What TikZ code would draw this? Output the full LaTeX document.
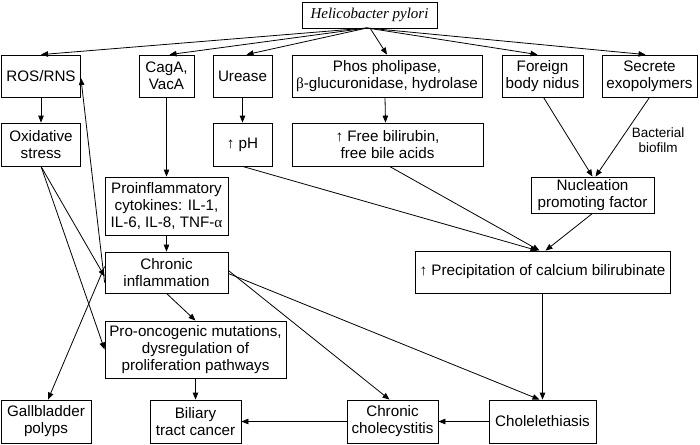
\documentclass[tikz,border=0pt]{standalone}
\usepackage{fontspec}
\setmainfont{Liberation Sans}
\newfontfamily\serifit{Liberation Serif}
\usetikzlibrary{arrows.meta}
\begin{document}
\begin{tikzpicture}[x=1pt,y=-1pt,
  box/.style={draw,line width=0.8pt,rectangle,align=center,inner sep=1pt,font=\fontsize{15.2}{17}\selectfont},
  arr/.style={line width=0.8pt,-{Triangle[length=7pt,width=5.5pt]}},
  ln/.style={line width=0.8pt}]
\useasboundingbox (0,0) rectangle (700,444);
\node[box,minimum width=135pt,minimum height=26pt] (hp) at (369.5,15) {\fontsize{15}{17}\selectfont\serifit\itshape Helicobacter pylori};
\node[box,minimum width=79pt,minimum height=42pt] (ros) at (41,76) {ROS/RNS};
\node[box,minimum width=55pt,minimum height=42pt] (cag) at (166.5,76) {CagA,\\VacA};
\node[box,minimum width=59pt,minimum height=42pt] (ure) at (242.5,76) {Urease};
\node[box,minimum width=190pt,minimum height=42pt] (pho) at (387,76) {Phos pholipase,\\{\serifit β}-glucuronidase, hydrolase};
\node[box,minimum width=81pt,minimum height=42pt] (fbn) at (542.5,76) {Foreign\\body nidus};
\node[box,minimum width=95pt,minimum height=42pt] (sec) at (649.5,76) {Secrete\\exopolymers};
\node[box,minimum width=79pt,minimum height=43pt] (oxi) at (41,144.5) {Oxidative\\stress};
\node[box,minimum width=59pt,minimum height=43pt] (ph) at (242.5,144.5) {↑ pH};
\node[box,minimum width=191pt,minimum height=43pt] (fbb) at (387.5,144.5) {↑ Free bilirubin,\\free bile acids};
\node[box,minimum width=123pt,minimum height=36pt] (nuc) at (592.5,195) {Nucleation\\promoting factor};
\node[box,minimum width=123pt,minimum height=58pt] (pro) at (166.5,206) {Proinflammatory\\cytokines: IL-1,\\IL-6, IL-8, TNF-{\serifit α}};
\node[box,minimum width=123pt,minimum height=41pt] (chr) at (166.5,272.5) {Chronic\\inflammation};
\node[box,minimum width=255pt,minimum height=42pt] (pre) at (542.5,272) {↑ Precipitation of calcium bilirubinate};
\node[box,minimum width=181pt,minimum height=57pt] (onc) at (195.5,349.5) {Pro-oncogenic mutations,\\dysregulation of\\proliferation pathways};
\node[box,minimum width=90pt,minimum height=43pt] (gbp) at (46,421.5) {Gallbladder\\polyps};
\node[box,minimum width=91pt,minimum height=43pt] (btc) at (195.5,421.5) {Biliary\\tract cancer};
\node[box,minimum width=91pt,minimum height=43pt] (cch) at (392.5,421.5) {Chronic\\cholecystitis};
\node[box,minimum width=107pt,minimum height=43pt] (cho) at (542.5,421.5) {Cholelethiasis};
\node[align=center,font=\fontsize{13.5}{14.5}\selectfont] (bio) at (658,140) {Bacterial\\biofilm};
\coordinate (hps) at (367,28);
\draw[arr] (hps) -- (ros.north);
\draw[arr] (hps) -- ([xshift=3pt]cag.north);
\draw[arr] (hps) -- ([xshift=4pt]ure.north);
\draw[arr] ([xshift=3pt]hps) -- (pho.north);
\draw[arr] (hps) -- ([xshift=-5pt]fbn.north);
\draw[arr] (hps) -- ([xshift=-4pt]sec.north);
\draw[arr] (ros) -- (oxi);
\draw[arr] (cag) -- (pro.north -| cag);
\draw[arr] (ure) -- (ph);
\draw[arr] ([xshift=-2pt]pho.south) -- ([xshift=-2pt]fbb.north);
\draw[arr] ([xshift=1pt]fbn.south) -- (nuc.north);
\draw[arr] ([xshift=0pt]sec.south) -- ([xshift=3pt]nuc.north);
\draw[arr] (ph.south) -- ([xshift=-5pt]pre.north);
\draw[arr] ([xshift=2pt]fbb.south) -- ([xshift=-3pt]pre.north);
\draw[arr] (nuc.south) -- ([xshift=3pt]pre.north);
\draw[arr] (pre.south) -- (cho.north);
\draw[arr] (pro) -- (chr);
\draw[arr] (oxi.south) -- ([yshift=-4pt]chr.west);
\draw[arr] (oxi.south) -- (onc.west);
\draw[arr] ([yshift=-10pt]chr.west) -- ([yshift=-2pt]ros.east);
\draw[arr] ([yshift=6pt]chr.west) -- ([xshift=2pt]gbp.north);
\draw[arr] (chr.south) -- (onc.north);
\draw[arr] ([yshift=2pt]chr.east) -- ([xshift=-3pt]cch.north);
\draw[arr] ([yshift=-1pt]chr.east) -- ([xshift=-3pt]cho.north);
\draw[arr] (onc.south) -- (btc.north);
\draw[arr] (cho) -- (cch);
\draw[arr] (cch) -- (btc);
\end{tikzpicture}
\end{document}
